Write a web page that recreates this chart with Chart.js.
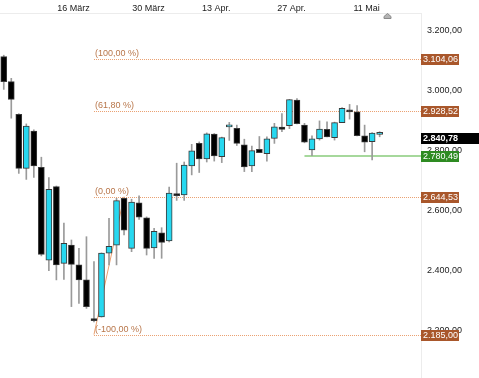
<!DOCTYPE html>
<html>
<head>
<meta charset="utf-8">
<script src="https://cdn.jsdelivr.net/npm/chart.js@4.4.0/dist/chart.umd.min.js"></script>
<style>
  html, body { margin: 0; padding: 0; background: #fff; }
  #chart { display: block; }
</style>
</head>
<body>
<canvas id="chart" width="479" height="378"></canvas>
<script>
// trading days (last five are empty future slots)
const dates = [
  '2020-03-03', '2020-03-04', '2020-03-05', '2020-03-06', '2020-03-09', '2020-03-10', '2020-03-11', '2020-03-12',
  '2020-03-13', '2020-03-16', '2020-03-17', '2020-03-18', '2020-03-19', '2020-03-20', '2020-03-23', '2020-03-24',
  '2020-03-25', '2020-03-26', '2020-03-27', '2020-03-30', '2020-03-31', '2020-04-01', '2020-04-02', '2020-04-03',
  '2020-04-06', '2020-04-07', '2020-04-08', '2020-04-09', '2020-04-13', '2020-04-14', '2020-04-15', '2020-04-16',
  '2020-04-17', '2020-04-20', '2020-04-21', '2020-04-22', '2020-04-23', '2020-04-24', '2020-04-27', '2020-04-28',
  '2020-04-29', '2020-04-30', '2020-05-01', '2020-05-04', '2020-05-05', '2020-05-06', '2020-05-07', '2020-05-08',
  '2020-05-11', '2020-05-12', '2020-05-13', '2020-05-14', '2020-05-15', '2020-05-18', '2020-05-19', '2020-05-20'
];

const opens = [3111, 3028, 2919, 2739, 2863, 2742, 2433, 2678, 2422, 2483, 2417, 2367, 2234, 2244, 2456, 2483,
  2639, 2472, 2624, 2574, 2474, 2524, 2497, 2655, 2650, 2747, 2822, 2770, 2853, 2778, 2877, 2872, 2817, 2747,
  2802, 2788, 2839, 2876, 2881, 2966, 2883, 2800, 2837, 2869, 2841, 2891, 2929, 2927, 2847, 2828, 2852];
const highs = [3116, 3039, 2921, 2887, 2867, 2776, 2708, 2680, 2556, 2500, 2472, 2511, 2428, 2457, 2572, 2639,
  2640, 2636, 2647, 2577, 2539, 2541, 2676, 2756, 2760, 2819, 2827, 2857, 2855, 2843, 2892, 2883, 2836, 2813,
  2845, 2844, 2889, 2921, 2969, 2971, 2889, 2847, 2897, 2894, 2893, 2941, 2952, 2948, 2883, 2858, 2861];
const lows = [3002, 2906, 2722, 2702, 2709, 2447, 2398, 2367, 2369, 2278, 2289, 2272, 2227, 2243, 2417, 2417,
  2517, 2461, 2569, 2450, 2439, 2439, 2494, 2632, 2632, 2717, 2725, 2760, 2763, 2758, 2832, 2815, 2728, 2728,
  2791, 2763, 2822, 2861, 2871, 2887, 2824, 2781, 2833, 2844, 2833, 2891, 2903, 2847, 2794, 2767, 2844];
const closes = [3028, 2969, 2739, 2880, 2747, 2452, 2669, 2417, 2489, 2419, 2367, 2278, 2231, 2456, 2479, 2631,
  2533, 2626, 2576, 2472, 2529, 2492, 2656, 2648, 2750, 2797, 2770, 2854, 2780, 2841, 2881, 2822, 2744, 2798,
  2791, 2837, 2877, 2869, 2968, 2888, 2826, 2837, 2870, 2844, 2891, 2939, 2927, 2848, 2826, 2856, 2858];

// axis labels
const axisDates = ['2020-03-16', '2020-03-30', '2020-04-13', '2020-04-27', '2020-05-11'];
const axisText = ['16 März', '30 März', '13 Apr.', '27 Apr.', '11 Mai'];
const yTickValues = [2200, 2400, 2600, 2800, 3000, 3200];

// fibonacci drawing
const fibLevels = [3104.06, 2928.52, 2644.53, 2185.00];
const fibNames = ['(100,00 %)', '(61,80 %)', '(0,00 %)', '(-100,00 %)'];
const fibFrom = '2020-03-19';
const fibTo = '2020-03-25';

// horizontal support line and last price
const supportLevel = 2780.49;
const supportFrom = '2020-04-29';
const lastPrice = 2840.78;

const FONT = '"Liberation Sans", Arial, sans-serif';
const UP = '#27d8f0';
const DOWN = '#000000';

function fmt(v) {
  const parts = v.toFixed(2).split('.');
  return parts[0].replace(/\B(?=(\d{3})+(?!\d))/g, '.') + ',' + parts[1];
}

const bodies = opens.map((o, i) => [o, closes[i]]);
const wicks = lows.map((l, i) => [l, highs[i]]);
const bodyColors = opens.map((o, i) => closes[i] >= o ? UP : DOWN);

const overlay = {
  id: 'overlay',
  beforeDatasetsDraw(chart) {
    const { ctx, chartArea: a, scales: { x, y } } = chart;
    ctx.save();
    ctx.beginPath();
    ctx.rect(a.left, a.top, a.right - a.left, a.bottom - a.top);
    ctx.clip();

    // fib levels
    const x0 = x.getPixelForValue(dates.indexOf(fibFrom));
    ctx.font = '9px ' + FONT;
    ctx.textBaseline = 'bottom';
    ctx.textAlign = 'left';
    fibLevels.forEach((lv, i) => {
      const py = Math.round(y.getPixelForValue(lv)) + 0.5;
      ctx.strokeStyle = '#eaa070';
      ctx.lineWidth = 1;
      ctx.setLineDash([1, 1]);
      ctx.beginPath();
      ctx.moveTo(x0, py);
      ctx.lineTo(a.right, py);
      ctx.stroke();
      ctx.fillStyle = '#b8764a';
      ctx.fillText(fibNames[i], x0 + 1, py - 1);
    });

    // fib trend line
    ctx.setLineDash([]);
    ctx.strokeStyle = '#eaa070';
    ctx.beginPath();
    ctx.moveTo(x0, y.getPixelForValue(fibLevels[3]));
    ctx.lineTo(x.getPixelForValue(dates.indexOf(fibTo)), y.getPixelForValue(fibLevels[2]));
    ctx.stroke();

    // support line
    const sy = Math.round(y.getPixelForValue(supportLevel));
    ctx.strokeStyle = '#a6d89c';
    ctx.lineWidth = 2;
    ctx.beginPath();
    ctx.moveTo(x.getPixelForValue(dates.indexOf(supportFrom)), sy);
    ctx.lineTo(a.right, sy);
    ctx.stroke();
    ctx.restore();
  },
  afterDraw(chart) {
    const { ctx, chartArea: a, scales: { x, y } } = chart;
    ctx.save();
    ctx.font = '9px ' + FONT;
    ctx.textBaseline = 'middle';
    ctx.textAlign = 'left';
    const box = (v, color, w) => {
      const py = Math.round(y.getPixelForValue(v));
      ctx.fillStyle = color;
      ctx.fillRect(a.right, py - 5, w, 11);
      ctx.fillStyle = '#ffffff';
      ctx.fillText(fmt(v), a.right + 2, py + 0.5);
    };
    fibLevels.forEach(lv => box(lv, '#a9572b', 38));
    box(supportLevel, '#2e8b22', 38);
    ctx.font = 'bold 9px ' + FONT;
    box(lastPrice, '#000000', 58);

    // small marker after the last candle
    const mx = Math.round(x.getPixelForValue(closes.length)) + 0.5;
    ctx.fillStyle = '#b4b4b4';
    ctx.strokeStyle = '#8a8a8a';
    ctx.lineWidth = 1;
    ctx.beginPath();
    ctx.moveTo(mx, a.top + 0.5);
    ctx.lineTo(mx + 3.5, a.top + 3.5);
    ctx.lineTo(mx + 3.5, a.top + 5.5);
    ctx.lineTo(mx - 3.5, a.top + 5.5);
    ctx.lineTo(mx - 3.5, a.top + 3.5);
    ctx.closePath();
    ctx.fill();
    ctx.stroke();
    ctx.restore();
  }
};

new Chart(document.getElementById('chart'), {
  type: 'bar',
  data: {
    labels: dates,
    datasets: [{
      label: 'Body',
      data: bodies,
      backgroundColor: bodyColors,
      borderColor: '#3a3a3a',
      borderWidth: 1,
      borderSkipped: false,
      barThickness: 6,
      minBarLength: 2,
      grouped: false,
      order: 0
    }, {
      label: 'Wick',
      data: wicks,
      backgroundColor: '#9a9a9a',
      borderWidth: 0,
      barThickness: 1,
      grouped: false,
      order: 1
    }]
  },
  options: {
    responsive: false,
    animation: false,
    events: [],
    layout: { padding: 0 },
    plugins: {
      legend: { display: false },
      tooltip: { enabled: false }
    },
    scales: {
      x: {
        position: 'top',
        offset: true,
        grid: { display: false, drawTicks: false },
        border: { display: true, color: '#ececec' },
        afterFit: s => { s.height = 13; s.paddingLeft = 0; s.paddingRight = 0; },
        ticks: {
          autoSkip: false,
          maxRotation: 0,
          padding: -1,
          labelOffset: 2,
          color: '#222',
          font: { family: FONT, size: 9 },
          callback: (v, i) => {
            const k = axisDates.indexOf(dates[i]);
            return k >= 0 ? axisText[k] : '';
          }
        }
      },
      y: {
        position: 'right',
        min: 2040,
        max: 3256.67,
        grid: { display: false, drawTicks: false },
        border: { display: true, color: '#ececec' },
        afterFit: s => { s.width = 58; s.paddingTop = 0; s.paddingBottom = 0; },
        afterBuildTicks: s => { s.ticks = yTickValues.map(v => ({ value: v })); },
        ticks: {
          padding: 6,
          labelOffset: 1,
          color: '#222',
          font: { family: FONT, size: 9 },
          callback: v => fmt(v)
        }
      }
    }
  },
  plugins: [overlay]
});
</script>
</body>
</html>
